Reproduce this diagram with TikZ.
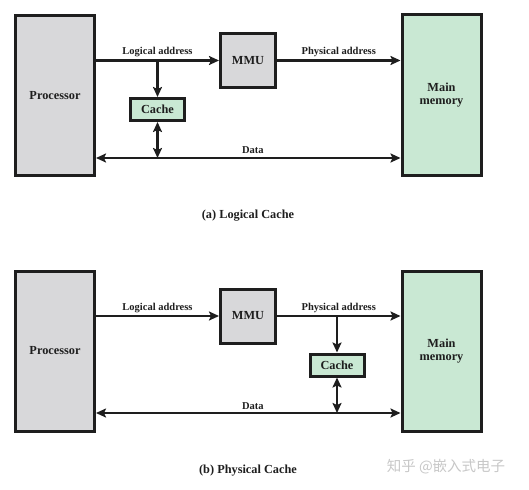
\documentclass[tikz,border=0pt]{standalone}
\usepackage{fontspec}
\setmainfont{Liberation Serif}
\newfontfamily\cjk{Noto Sans CJK SC}
\usetikzlibrary{positioning,arrows.meta}

\definecolor{unitgray}{RGB}{216,216,218}
\definecolor{unitgreen}{RGB}{201,232,211}
\definecolor{edgeblack}{RGB}{30,30,30}

\tikzset{
  unit/.style={rectangle,draw=edgeblack,line width=3pt,inner sep=0pt,align=center,
    text=edgeblack,font=\fontsize{12.3}{13.5}\selectfont\bfseries},
  bigunit/.style={unit,minimum width=79pt,minimum height=160pt},
  mmubox/.style={unit,fill=unitgray,minimum width=55pt,minimum height=54pt},
  cachebox/.style={unit,fill=unitgreen,minimum width=54pt,minimum height=22pt},
  bus/.style={line width=2.8pt,draw=edgeblack,-{Stealth[length=10pt,width=9pt,inset=2pt]}},
  dbus/.style={line width=2.8pt,draw=edgeblack,
    {Stealth[length=10pt,width=9pt,inset=2pt]}-{Stealth[length=10pt,width=9pt,inset=2pt]}},
  lbl/.style={inner sep=0pt,text=edgeblack,font=\fontsize{10.5}{12}\selectfont\bfseries},
  caption/.style={inner sep=0pt,text=edgeblack,font=\fontsize{12.3}{14}\selectfont\bfseries}
}

\begin{document}
\begin{tikzpicture}[x=1pt,y=-1pt]
\useasboundingbox (0,0) rectangle (529,489);

% (a) Logical cache
\node[bigunit,fill=unitgray] (procA) at (55,95.5) {Processor};
\node[mmubox] (mmuA) at (248,60.5) {MMU};
\node[bigunit,fill=unitgreen] (memA) at (441.5,95) {Main\\memory};
\node[cachebox] (cacheA) at (157.5,109.5) {Cache};

\draw[bus] (mmuA.west -| procA.east) -- node[lbl,above=2pt] (logA) {Logical address} (mmuA.west);
\draw[bus] (mmuA.east) -- node[lbl,above=2pt] (physA) {Physical address} (mmuA.east -| memA.west);
\coordinate (brA) at (cacheA.north |- mmuA.west);
\draw[bus] (brA) -- (cacheA.north);

\coordinate (dataA) at (157.5,158);
\draw[dbus] (dataA -| procA.east) -- node[lbl,above=2.5pt,pos=0.515] (dlA) {Data} (dataA -| memA.west);
\draw[dbus] (cacheA.south) -- (dataA);

\node[caption] (capA) at (248,216) {(a) Logical Cache};

% (b) Physical cache
\node[bigunit,fill=unitgray] (procB) at (55,351) {Processor};
\node[mmubox] (mmuB) at (248,316) {MMU};
\node[bigunit,fill=unitgreen] (memB) at (441.5,351) {Main\\memory};
\node[cachebox] (cacheB) at (337,365) {Cache};

\draw[bus] (mmuB.west -| procB.east) -- node[lbl,above=2pt] (logB) {Logical address} (mmuB.west);
\draw[bus] (mmuB.east) -- node[lbl,above=2pt] (physB) {Physical address} (mmuB.east -| memB.west);
\coordinate (brB) at (cacheB.north |- mmuB.east);
\draw[bus] (brB) -- (cacheB.north);

\coordinate (dataB) at (337,413);
\draw[dbus] (dataB -| procB.east) -- node[lbl,above=2.5pt,pos=0.515] (dlB) {Data} (dataB -| memB.west);
\draw[dbus] (cacheB.south) -- (dataB);

\node[caption] (capB) at (248,471) {(b) Physical Cache};

% watermark
\node[inner sep=0pt,text=black!22,font=\cjk\fontsize{14.5}{16}\selectfont] (mark) at (446,467) {知乎 @嵌入式电子};
\end{tikzpicture}
\end{document}
